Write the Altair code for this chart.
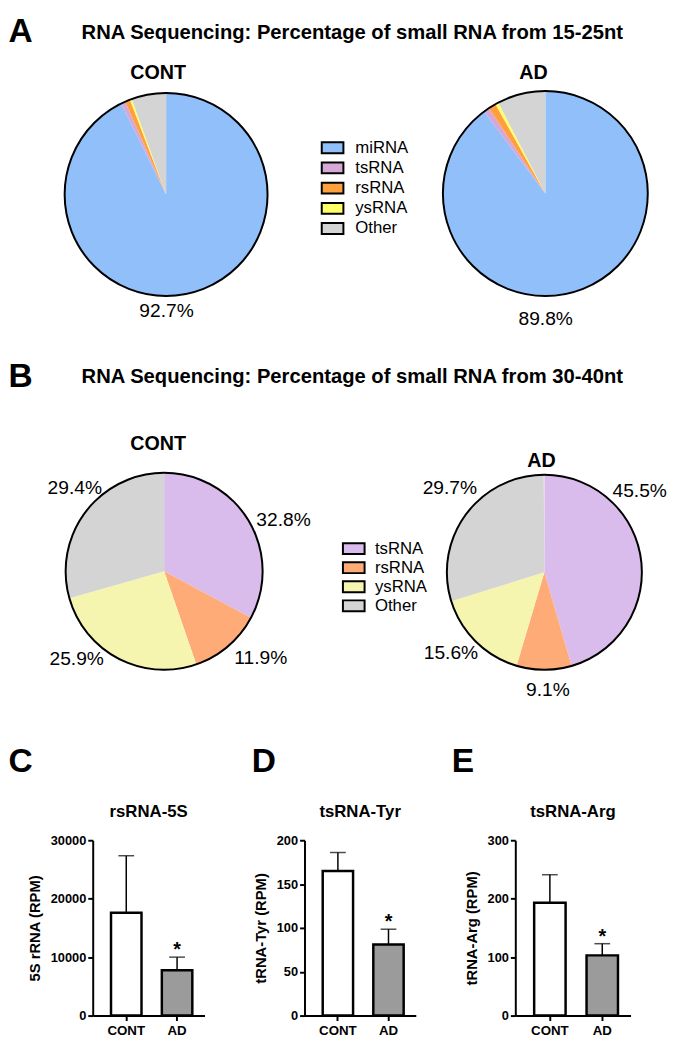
import math
import altair as alt
import pandas as pd

FONT = "Liberation Sans, Arial, sans-serif"

# ---------------- data ----------------
groups = ["CONT", "AD"]

cats_15 = ["miRNA", "tsRNA", "rsRNA", "ysRNA", "Other"]
pct_15_cont = [92.7, 0.7, 0.8, 0.3, 5.5]
pct_15_ad = [89.8, 0.9, 1.2, 0.5, 7.6]
colors_15 = ["#90BFF9", "#D6A8D8", "#FFA03F", "#FFFF66", "#D4D4D4"]

cats_30 = ["tsRNA", "rsRNA", "ysRNA", "Other"]
pct_30_cont = [32.8, 11.9, 25.9, 29.4]
pct_30_ad = [45.5, 9.1, 15.6, 29.7]
colors_30 = ["#D9BCEB", "#FFAB78", "#F5F5B0", "#D4D4D4"]

letters = ["A", "B", "C", "D", "E"]
section_titles = [
    "RNA Sequencing: Percentage of small RNA from 15-25nt",
    "RNA Sequencing: Percentage of small RNA from 30-40nt",
]

bar_titles = ["rsRNA-5S", "tsRNA-Tyr", "tsRNA-Arg"]
bar_ylabels = ["5S rRNA (RPM)", "tRNA-Tyr (RPM)", "tRNA-Arg (RPM)"]
mean_5s = [17600, 7750]
sd_5s = [9750, 2250]
mean_tyr = [165, 81]
sd_tyr = [21, 17.5]
mean_arg = [193, 103]
sd_arg = [48, 20]
sig = ["", "*"]
ticks_5s = [0, 10000, 20000, 30000]
ticks_tyr = [0, 50, 100, 150, 200]
ticks_arg = [0, 100, 200, 300]

THETA = alt.Scale(domain=[0, 100], range=[0, 2 * math.pi])
OX = 85.5          # left overhang shared by every row (origin = plot C left edge)
ROW_W = 667 - OX


def text(txt, x, y, size, weight="normal", align="center"):
    return alt.Chart(pd.DataFrame({"t": [txt]})).mark_text(
        font=FONT, fontSize=size, fontWeight=weight, align=align,
        baseline="middle", color="black"
    ).encode(text="t:N", x=alt.value(x), y=alt.value(y))


def pie(cats, values, colors, group, cx, cy, r, nudges, label_r=125):
    df = pd.DataFrame({"cat": cats, "value": values,
                       "order": list(range(len(cats))), "group": group})
    cscale = alt.Scale(domain=cats, range=colors)
    base = alt.Chart(df).transform_window(
        end="sum(value)", sort=[alt.SortField("order", order="ascending")]
    ).transform_calculate(
        start="datum.end - datum.value",
        mid="datum.end - datum.value / 2",
        label="format(datum.value, '.1f') + '%'",
    )
    slices = base.mark_arc(radius=r).encode(
        theta=alt.Theta("start:Q", scale=THETA, stack=False),
        theta2="end:Q",
        color=alt.Color("cat:N", scale=cscale, legend=None),
        x=alt.value(cx), y=alt.value(cy),
    )
    ring = alt.Chart(pd.DataFrame({"group": [group]})).mark_arc(
        radius=r, theta=0, theta2=2 * math.pi, fillOpacity=0,
        stroke="black", strokeWidth=2
    ).encode(x=alt.value(cx), y=alt.value(cy))
    layers = [slices, ring]
    for cat, (dx, dy) in nudges.items():
        layers.append(
            base.transform_filter(alt.datum.cat == cat).mark_text(
                radius=label_r, dx=dx, dy=dy, font=FONT, fontSize=19.5,
                align="center", baseline="middle", color="black"
            ).encode(
                theta=alt.Theta("mid:Q", scale=THETA, stack=False),
                x=alt.value(cx), y=alt.value(cy), text="label:N",
            )
        )
    return layers


def legend(cats, colors, sx, tx, y0, y1):
    df = pd.DataFrame({"cat": cats})
    cscale = alt.Scale(domain=cats, range=colors)
    yscale = alt.Scale(type="point", domain=cats, range=[y0, y1], padding=0)
    sym = alt.Chart(df).mark_point(
        shape="M-1,-0.5H1V0.5H-1Z", size=484, filled=True, opacity=1,
        stroke="black", strokeWidth=2
    ).encode(
        x=alt.value(sx), y=alt.Y("cat:N", scale=yscale, axis=None),
        color=alt.Color("cat:N", scale=cscale, legend=None),
    )
    lab = alt.Chart(df).mark_text(
        font=FONT, fontSize=17, align="left", baseline="middle", color="black"
    ).encode(
        x=alt.value(tx), y=alt.Y("cat:N", scale=yscale, axis=None), text="cat:N"
    )
    return [sym, lab]


# ---------------- row A ----------------
rowA_layers = [
    text(letters[0], -OX, 14, 34, "bold", "left"),
    text(section_titles[0], 349 - OX, 15, 20.5, "bold"),
    text(groups[0], 152 - OX, 55.5, 20, "bold"),
    text(groups[1], 533 - OX, 55, 20, "bold"),
]
rowA_layers += pie(cats_15, pct_15_cont, colors_15, "CONT", 160 - OX, 178.5, 103,
                   {"miRNA": (-28, -3)})
rowA_layers += pie(cats_15, pct_15_ad, colors_15, "AD", 545 - OX, 177.5, 104,
                   {"miRNA": (-39, 9)})
rowA_layers += legend(cats_15, colors_15, 329 - OX, 352 - OX, 131, 213)
rowA = alt.layer(*rowA_layers).properties(width=ROW_W, height=332)

# ---------------- row B ----------------
rowB_layers = [
    text(letters[1], -OX, 32, 34, "bold", "left"),
    text(section_titles[1], 349 - OX, 32, 20.5, "bold"),
    text(groups[0], 152 - OX, 100, 20, "bold"),
    text(groups[1], 541 - OX, 117, 20, "bold"),
]
rowB_layers += pie(cats_30, pct_30_cont, colors_30, "CONT", 158 - OX, 229, 100,
                   {"tsRNA": (14, 12), "rsRNA": (17, -7),
                    "ysRNA": (-31, -22), "Other": (9, -9)})
rowB_layers += pie(cats_30, pct_30_ad, colors_30, "AD", 544 - OX, 230, 99,
                   {"tsRNA": (-27, -65), "rsRNA": (4, -5),
                    "ysRNA": (-7, -7), "Other": (5, -12)})
rowB_layers += legend(cats_30, colors_30, 350.5 - OX, 372 - OX, 206, 264)
rowB = alt.layer(*rowB_layers).properties(width=ROW_W, height=406)


# ---------------- bars ----------------
def bar_panel(letter, title, ylab, means, sds, ticks, width, letter_x):
    df = pd.DataFrame({"group": groups, "mean": means, "sd": sds, "sig": sig})
    base = alt.Chart(df).transform_calculate(upper="datum.mean + datum.sd")
    xenc = alt.X(
        "group:N", sort=groups,
        scale=alt.Scale(domain=groups, paddingInner=0.4, paddingOuter=0.3, align=0.6),
        axis=alt.Axis(title=None, labelAngle=0, labelFont=FONT, labelFontSize=13.5,
                      labelFontWeight="bold", labelColor="black", tickSize=5,
                      tickWidth=2, tickColor="black", domainWidth=2,
                      domainColor="black", labelPadding=3),
    )
    yscale = alt.Scale(domain=[0, ticks[-1]], nice=False)
    yaxis = alt.Axis(values=ticks, format="d", title=ylab, grid=False,
                     labelFont=FONT, labelFontSize=13, labelFontWeight="bold",
                     labelColor="black", titleFont=FONT, titleFontSize=15,
                     titleFontWeight="bold", titleColor="black", tickSize=5,
                     tickWidth=2, tickColor="black", domainWidth=2,
                     domainColor="black", labelPadding=2, titlePadding=8)
    err = base.mark_rule(color="black", strokeWidth=1.5).encode(
        x=xenc, y=alt.Y("mean:Q", scale=yscale, axis=yaxis), y2="upper:Q")
    cap = base.mark_tick(color="black", thickness=1.5, size=16).encode(
        x=xenc, y=alt.Y("upper:Q", scale=yscale, axis=yaxis))
    bars = base.mark_bar(stroke="black", strokeWidth=2.5).encode(
        x=xenc, y=alt.Y("mean:Q", scale=yscale, axis=yaxis),
        fill=alt.Fill("group:N", scale=alt.Scale(domain=groups, range=["white", "#9B9B9B"]),
                      legend=None),
    )
    star = base.mark_text(font=FONT, fontSize=20, fontWeight="bold",
                          baseline="alphabetic", dy=-1, color="black").encode(
        x=xenc, y=alt.Y("upper:Q", scale=yscale, axis=yaxis), text="sig:N")
    let = text(letter, letter_x, -79, 34, "bold", "left")
    ttl = text(title, width / 2, -29, 17, "bold")
    return alt.layer(err, cap, bars, star, let, ttl).properties(width=width, height=178)


barC = bar_panel(letters[2], bar_titles[0], bar_ylabels[0], mean_5s, sd_5s, ticks_5s, 113.5, -OX)
barD = bar_panel(letters[3], bar_titles[1], bar_ylabels[1], mean_tyr, sd_tyr, ticks_tyr, 113, -53.5)
barE = bar_panel(letters[4], bar_titles[2], bar_ylabels[2], mean_arg, sd_arg, ticks_arg, 117, -64.5)

bars_row = alt.hconcat(barC, barD, barE, spacing=101, bounds="flush").resolve_scale(
    y="independent")

chart = alt.vconcat(rowA, rowB, bars_row, spacing=0).resolve_scale(
    color="independent", y="independent", x="independent", theta="independent",
    fill="independent"
).properties(padding=0).configure(font=FONT).configure_view(strokeWidth=0)

chart.save("out.html", embed_options={"renderer": "svg", "actions": False})
